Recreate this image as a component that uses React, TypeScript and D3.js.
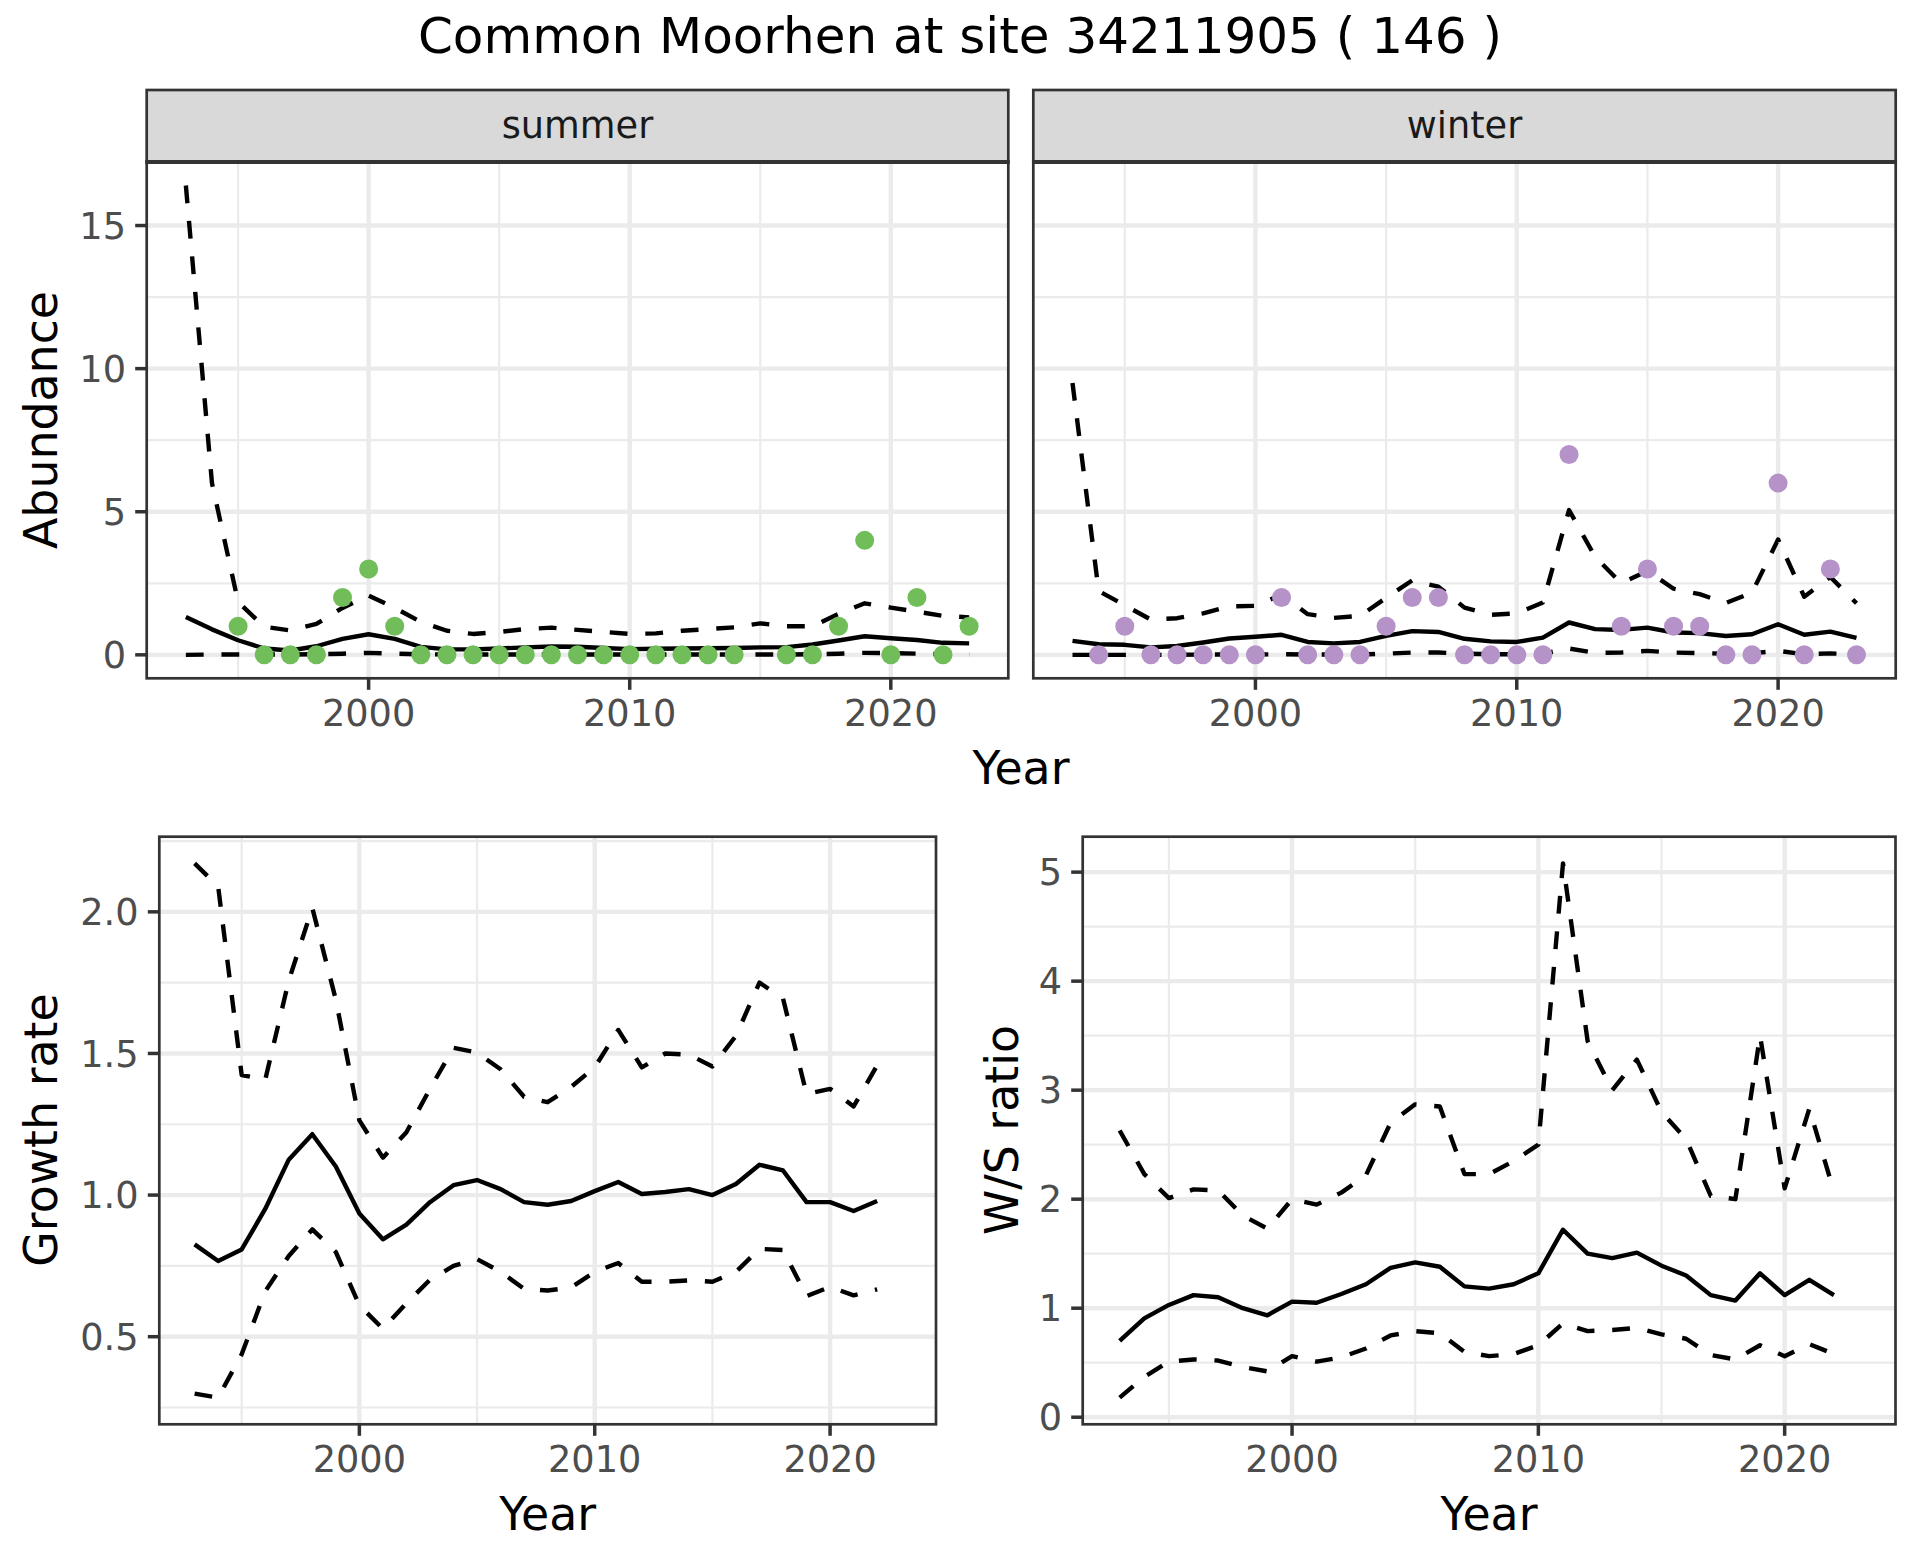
import React, { useEffect } from "react";
import * as d3 from "d3";

// ---- data ----
const yearsAbund = [1993, 1994, 1995, 1996, 1997, 1998, 1999, 2000, 2001, 2002, 2003, 2004, 2005, 2006, 2007, 2008,
  2009, 2010, 2011, 2012, 2013, 2014, 2015, 2016, 2017, 2018, 2019, 2020, 2021, 2022, 2023];
const yearsRate = [1993, 1994, 1995, 1996, 1997, 1998, 1999, 2000, 2001, 2002, 2003, 2004, 2005, 2006, 2007, 2008,
  2009, 2010, 2011, 2012, 2013, 2014, 2015, 2016, 2017, 2018, 2019, 2020, 2021, 2022];

// observed counts (null = not surveyed)
const summerObs = [null, null, 1, 0, 0, 0, 2, 3, 1, 0, 0, 0, 0, 0, 0, 0,
  0, 0, 0, 0, 0, 0, null, 0, 0, 1, 4, 0, 2, 0, 1];
const winterObs = [null, 0, 1, 0, 0, 0, 0, 0, 2, 0, 0, 0, 1, 2, 2, 0,
  0, 0, 0, 7, null, 1, 3, 1, 1, 0, 0, 6, 0, 3, 0];

const summerFit = [1.32, 0.89, 0.51, 0.22, 0.15, 0.30, 0.56, 0.72, 0.56, 0.28, 0.19, 0.19, 0.22, 0.26, 0.29, 0.28,
  0.24, 0.20, 0.21, 0.22, 0.23, 0.24, 0.26, 0.27, 0.36, 0.50, 0.65, 0.58, 0.52, 0.42, 0.40];
const summerHi = [16.4, 6.0, 1.85, 0.98, 0.85, 1.08, 1.64, 2.07, 1.64, 1.15, 0.84, 0.73, 0.80, 0.90, 0.95, 0.87,
  0.80, 0.73, 0.75, 0.84, 0.90, 0.96, 1.10, 1.00, 1.00, 1.43, 1.80, 1.65, 1.51, 1.36, 1.31];
const summerLo = [0.0, 0.01, 0.01, 0.01, 0.01, 0.02, 0.04, 0.07, 0.04, 0.02, 0.01, 0.01, 0.01, 0.01, 0.01, 0.01,
  0.01, 0.01, 0.01, 0.01, 0.01, 0.01, 0.01, 0.01, 0.02, 0.04, 0.07, 0.06, 0.04, 0.02, 0.02];

const winterFit = [0.49, 0.37, 0.35, 0.26, 0.31, 0.43, 0.57, 0.63, 0.70, 0.45, 0.40, 0.45, 0.66, 0.83, 0.80, 0.56,
  0.47, 0.45, 0.60, 1.13, 0.90, 0.87, 0.95, 0.78, 0.76, 0.66, 0.72, 1.07, 0.70, 0.81, 0.59];
const winterHi = [9.5, 2.23, 1.73, 1.23, 1.28, 1.45, 1.69, 1.71, 2.10, 1.42, 1.29, 1.36, 1.99, 2.60, 2.38, 1.65,
  1.40, 1.45, 1.83, 5.06, 3.42, 2.50, 2.93, 2.31, 2.12, 1.81, 2.17, 4.03, 2.03, 2.72, 1.80];
const winterLo = [0.0, 0.0, 0.0, 0.0, 0.0, 0.01, 0.01, 0.01, 0.02, 0.01, 0.01, 0.01, 0.04, 0.08, 0.08, 0.04,
  0.02, 0.02, 0.04, 0.22, 0.07, 0.08, 0.14, 0.08, 0.06, 0.04, 0.05, 0.14, 0.02, 0.05, 0.02];

const growthFit = [0.826, 0.767, 0.808, 0.951, 1.125, 1.215, 1.101, 0.935, 0.844, 0.896, 0.975, 1.035, 1.053, 1.021, 0.975,
  0.966, 0.979, 1.014, 1.046, 1.004, 1.011, 1.021, 1.0, 1.039, 1.107, 1.087, 0.975, 0.975, 0.944, 0.979];
const growthHi = [2.171, 2.09, 1.424, 1.407, 1.757, 2.014, 1.69, 1.264, 1.132, 1.222, 1.375, 1.52, 1.503, 1.444, 1.347,
  1.328, 1.382, 1.451, 1.583, 1.451, 1.5, 1.496, 1.454, 1.562, 1.75, 1.694, 1.357, 1.375, 1.313, 1.458];
const growthLo = [0.299, 0.285, 0.438, 0.66, 0.785, 0.879, 0.799, 0.611, 0.528, 0.618, 0.701, 0.75, 0.774, 0.729, 0.669,
  0.663, 0.674, 0.729, 0.76, 0.694, 0.694, 0.699, 0.694, 0.729, 0.81, 0.806, 0.643, 0.676, 0.646, 0.667];

const ratioFit = [0.70, 0.906, 1.03, 1.12, 1.10, 1.00, 0.935, 1.06, 1.05, 1.13, 1.22, 1.37, 1.42, 1.38, 1.20,
  1.18, 1.22, 1.32, 1.72, 1.50, 1.46, 1.51, 1.39, 1.30, 1.12, 1.07, 1.32, 1.12, 1.26, 1.12];
const ratioHi = [2.63, 2.23, 2.01, 2.09, 2.08, 1.85, 1.73, 2.00, 1.95, 2.06, 2.22, 2.70, 2.87, 2.85, 2.23,
  2.23, 2.35, 2.50, 5.08, 3.45, 3.00, 3.28, 2.80, 2.55, 2.03, 2.00, 3.50, 2.10, 2.83, 2.07];
const ratioLo = [0.18, 0.37, 0.51, 0.53, 0.52, 0.46, 0.42, 0.56, 0.51, 0.55, 0.63, 0.75, 0.79, 0.77, 0.60,
  0.56, 0.58, 0.66, 0.86, 0.79, 0.80, 0.82, 0.76, 0.72, 0.57, 0.53, 0.66, 0.56, 0.67, 0.58];

const xTicks = [2000, 2010, 2020];
const abundTicks = [0, 5, 10, 15];
const growthTicks = [0.5, 1.0, 1.5, 2.0];
const ratioTicks = [0, 1, 2, 3, 4, 5];

const title = "Common Moorhen at site 34211905 ( 146 )";
const seasons = ["summer", "winter"];
const summerColor = "#70BD59";
const winterColor = "#B592C7";

// ---- styling ----
const FONT = "'DejaVu Sans', sans-serif";
const AXIS_TXT = 36.7;
const AXIS_TITLE = 45.8;
const LW = 4.4;
const DASH = "17.8 17.8";

type Box = { x0: number; x1: number; y0: number; y1: number };
type Series = { years: number[]; values: number[]; dashed: boolean };

// ggplot style 5% expansion
function expand(lo: number, hi: number): [number, number] {
  const d = (hi - lo) * 0.05;
  return [lo - d, hi + d];
}

function minorOf(major: number[], domain: [number, number]) {
  const step = major[1] - major[0];
  const out: number[] = [];
  for (let v = major[0] - step * 2.5; v <= domain[1]; v += step) {
    if (v >= domain[0]) out.push(v);
  }
  return out;
}

const xDomain = expand(d3.min(yearsAbund)!, d3.max(yearsAbund)!);

function Panel(props: {
  box: Box;
  yDomain: [number, number];
  yTicks: number[];
  yFormat: (v: number) => string;
  series: Series[];
  points?: { years: number[]; values: (number | null)[]; color: string };
  showY: boolean;
  strip?: string;
}) {
  const { box, yDomain, yTicks, yFormat, series, points, showY, strip } = props;
  const x = d3.scaleLinear().domain(xDomain).range([box.x0, box.x1]);
  const y = d3.scaleLinear().domain(yDomain).range([box.y1, box.y0]);
  const majorY = yTicks.filter(v => v >= yDomain[0] && v <= yDomain[1]);
  const minorY = minorOf(yTicks, yDomain);
  const minorX = minorOf(xTicks, xDomain);

  return (
    <g>
      <rect x={box.x0} y={box.y0} width={box.x1 - box.x0} height={box.y1 - box.y0} fill="#FFFFFF" />
      {minorY.map(v => (
        <line key={"my" + v} x1={box.x0} x2={box.x1} y1={y(v)} y2={y(v)} stroke="#EBEBEB" strokeWidth={2.2} />
      ))}
      {minorX.map(v => (
        <line key={"mx" + v} y1={box.y0} y2={box.y1} x1={x(v)} x2={x(v)} stroke="#EBEBEB" strokeWidth={2.2} />
      ))}
      {majorY.map(v => (
        <line key={"gy" + v} x1={box.x0} x2={box.x1} y1={y(v)} y2={y(v)} stroke="#EBEBEB" strokeWidth={LW} />
      ))}
      {xTicks.map(v => (
        <line key={"gx" + v} y1={box.y0} y2={box.y1} x1={x(v)} x2={x(v)} stroke="#EBEBEB" strokeWidth={LW} />
      ))}

      {series.map((s, i) => {
        const path = d3.line<number>()
          .x((_, j) => x(s.years[j]))
          .y(d => y(d))(s.values);
        return (
          <path key={"s" + i} d={path || ""} fill="none" stroke="#000000" strokeWidth={LW}
                strokeDasharray={s.dashed ? DASH : undefined} strokeLinejoin="round" />
        );
      })}

      {points && points.values.map((v, i) => v === null ? null : (
        <circle key={"p" + i} cx={x(points.years[i])} cy={y(v)} r={9.5} fill={points.color} />
      ))}

      <rect x={box.x0} y={box.y0} width={box.x1 - box.x0} height={box.y1 - box.y0}
            fill="none" stroke="#333333" strokeWidth={2.7} />

      {strip && (
        <g>
          <rect x={box.x0} y={90} width={box.x1 - box.x0} height={box.y0 - 90}
                fill="#D9D9D9" stroke="#333333" strokeWidth={2.7} />
          <line x1={box.x0 - 1.3} x2={box.x1 + 1.3} y1={box.y0} y2={box.y0} stroke="#333333" strokeWidth={4} />
          <text x={(box.x0 + box.x1) / 2} y={138} textAnchor="middle" fontFamily={FONT}
                fontSize={AXIS_TXT} fill="#1A1A1A">{strip}</text>
        </g>
      )}

      {/* x axis */}
      {xTicks.map(v => (
        <g key={"xt" + v}>
          <line x1={x(v)} x2={x(v)} y1={box.y1} y2={box.y1 + 11.5} stroke="#333333" strokeWidth={3.5} />
          <text x={x(v)} y={box.y1 + 48} textAnchor="middle" fontFamily={FONT} fontSize={AXIS_TXT}
                fill="#4D4D4D">{v}</text>
        </g>
      ))}

      {/* y axis */}
      {showY && majorY.map(v => (
        <g key={"yt" + v}>
          <line x1={box.x0 - 11.5} x2={box.x0} y1={y(v)} y2={y(v)} stroke="#333333" strokeWidth={3.5} />
          <text x={box.x0 - 20.7} y={y(v) + 13.2} textAnchor="end" fontFamily={FONT} fontSize={AXIS_TXT}
                fill="#4D4D4D">{yFormat(v)}</text>
        </g>
      ))}
    </g>
  );
}

function YTitle(props: { cx: number; cy: number; label: string }) {
  return (
    <text transform={`translate(${props.cx},${props.cy}) rotate(-90)`} dy="0.36em" textAnchor="middle"
          fontFamily={FONT} fontSize={AXIS_TITLE} fill="#000000">{props.label}</text>
  );
}

function XTitle(props: { cx: number; y: number; label: string }) {
  return (
    <text x={props.cx} y={props.y} textAnchor="middle" fontFamily={FONT} fontSize={AXIS_TITLE}
          fill="#000000">{props.label}</text>
  );
}

export default function App() {
  useEffect(() => {
    document.body.style.margin = "0";
  }, []);

  const summerBox: Box = { x0: 146.7, x1: 1008.3, y0: 162, y1: 678.3 };
  const winterBox: Box = { x0: 1033.3, x1: 1895.7, y0: 162, y1: 678.3 };
  const growthBox: Box = { x0: 159.3, x1: 936, y0: 836.7, y1: 1424.3 };
  const ratioBox: Box = { x0: 1082.7, x1: 1895.5, y0: 836.7, y1: 1424.3 };

  const abundAll = [...summerHi, ...summerLo, ...winterHi, ...winterLo,
    ...(summerObs.filter(v => v !== null) as number[]), ...(winterObs.filter(v => v !== null) as number[])];
  const abundDomain = expand(d3.min(abundAll)!, d3.max(abundAll)!);
  const growthAll = [...growthHi, ...growthLo, ...growthFit];
  const growthDomain = expand(d3.min(growthAll)!, d3.max(growthAll)!);
  const ratioAll = [...ratioHi, ...ratioLo, ...ratioFit];
  const ratioDomain = expand(d3.min(ratioAll)!, d3.max(ratioAll)!);

  const intFmt = (v: number) => String(v);
  const oneDp = d3.format(".1f");

  return (
    <svg width={1920} height={1560} viewBox="0 0 1920 1560" style={{ display: "block", background: "#FFFFFF" }}>
      <rect x={0} y={0} width={1920} height={1560} fill="#FFFFFF" />
      <text x={960} y={53} textAnchor="middle" fontFamily={FONT} fontSize={50} fill="#000000">{title}</text>

      <Panel box={summerBox} yDomain={abundDomain} yTicks={abundTicks} yFormat={intFmt} showY={true}
             strip={seasons[0]}
             series={[
               { years: yearsAbund, values: summerLo, dashed: true },
               { years: yearsAbund, values: summerHi, dashed: true },
               { years: yearsAbund, values: summerFit, dashed: false },
             ]}
             points={{ years: yearsAbund, values: summerObs, color: summerColor }} />
      <Panel box={winterBox} yDomain={abundDomain} yTicks={abundTicks} yFormat={intFmt} showY={false}
             strip={seasons[1]}
             series={[
               { years: yearsAbund, values: winterLo, dashed: true },
               { years: yearsAbund, values: winterHi, dashed: true },
               { years: yearsAbund, values: winterFit, dashed: false },
             ]}
             points={{ years: yearsAbund, values: winterObs, color: winterColor }} />
      <YTitle cx={40} cy={420} label="Abundance" />
      <XTitle cx={1021} y={784} label="Year" />

      <Panel box={growthBox} yDomain={growthDomain} yTicks={growthTicks} yFormat={oneDp} showY={true}
             series={[
               { years: yearsRate, values: growthLo, dashed: true },
               { years: yearsRate, values: growthHi, dashed: true },
               { years: yearsRate, values: growthFit, dashed: false },
             ]} />
      <YTitle cx={40} cy={1130} label="Growth rate" />
      <XTitle cx={547.7} y={1530} label="Year" />

      <Panel box={ratioBox} yDomain={ratioDomain} yTicks={ratioTicks} yFormat={intFmt} showY={true}
             series={[
               { years: yearsRate, values: ratioLo, dashed: true },
               { years: yearsRate, values: ratioHi, dashed: true },
               { years: yearsRate, values: ratioFit, dashed: false },
             ]} />
      <YTitle cx={1001} cy={1130} label="W/S ratio" />
      <XTitle cx={1489} y={1530} label="Year" />
    </svg>
  );
}
